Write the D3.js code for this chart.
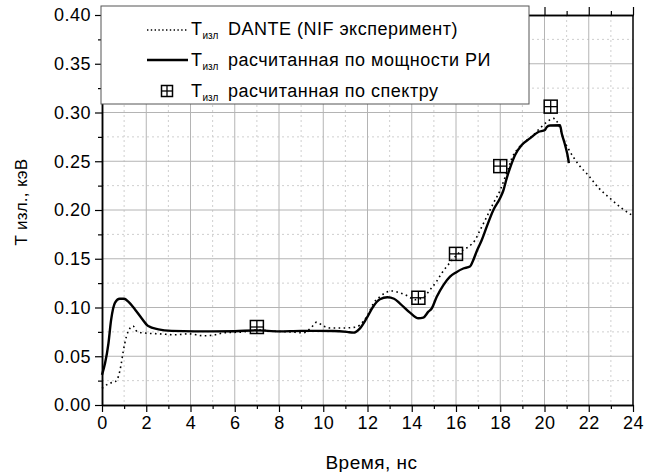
<!DOCTYPE html>
<html>
<head>
<meta charset="utf-8">
<script src="https://cdn.jsdelivr.net/npm/d3@7"></script>
<style>
body { margin: 0; background: #fff; }
svg { font-family: Arial, 'Liberation Sans', sans-serif; }
.grid-major { stroke: #b4b4b4; stroke-width: 1; }
.grid-minor { stroke: #cfcfcf; stroke-width: 1; stroke-dasharray: 2,3; }
</style>
</head>
<body>
<svg id="chart" width="653" height="472"></svg>
<script>
// время, нс / T изл, кэВ
var danteData = [
    [0, 0.017], [0.3, 0.022], [0.6, 0.024], [0.75, 0.030], [0.86, 0.041], [0.96, 0.055],
    [1.1, 0.070], [1.27, 0.079], [1.4, 0.081], [1.6, 0.075], [2.1, 0.0735], [2.6, 0.073],
    [3.3, 0.072], [3.9, 0.073], [4.6, 0.071], [5.0, 0.0715], [5.5, 0.074], [6.4, 0.075],
    [7.0, 0.077], [7.9, 0.0755], [8.5, 0.075], [9.1, 0.074], [9.48, 0.080], [9.7, 0.085],
    [10.0, 0.081], [10.3, 0.079], [10.9, 0.079], [11.5, 0.080], [11.8, 0.0855], [12.05, 0.094],
    [12.26, 0.104], [12.56, 0.111], [12.8, 0.115], [13.1, 0.117], [13.47, 0.115], [13.8, 0.112],
    [14.15, 0.108], [14.5, 0.110], [14.82, 0.118], [15.13, 0.127], [15.35, 0.135], [15.58, 0.142],
    [15.88, 0.150], [16.18, 0.157], [16.48, 0.161], [16.71, 0.165], [16.86, 0.169], [17.08, 0.179],
    [17.39, 0.193], [17.69, 0.207], [18.0, 0.2205], [18.2, 0.2325], [18.37, 0.243], [18.52, 0.253],
    [18.75, 0.2615], [19.12, 0.270], [19.5, 0.277], [19.8, 0.284], [20.1, 0.290], [20.4, 0.294],
    [20.65, 0.287], [20.85, 0.2735], [21.15, 0.260], [21.53, 0.247], [22.0, 0.235], [22.43, 0.223],
    [22.96, 0.212], [23.5, 0.2017], [24, 0.194]
]
var powerData = [
    [0, 0.031], [0.14, 0.043], [0.29, 0.063], [0.41, 0.087], [0.59, 0.105], [0.8, 0.109],
    [1.0, 0.109], [1.19, 0.106], [1.49, 0.098], [1.79, 0.089], [2.09, 0.081], [2.55, 0.0776],
    [3.15, 0.076], [4.2, 0.0755], [5.0, 0.0755], [6.0, 0.0757], [7.0, 0.0765], [8.0, 0.0755],
    [9.0, 0.076], [10.46, 0.0759], [11.07, 0.075], [11.36, 0.0742], [11.66, 0.0786], [11.96, 0.089],
    [12.26, 0.101], [12.56, 0.1084], [12.9, 0.1105], [13.2, 0.109], [13.47, 0.104], [13.92, 0.0947],
    [14.3, 0.0889], [14.52, 0.0896], [14.75, 0.0957], [14.9, 0.099], [15.13, 0.111], [15.43, 0.123],
    [15.73, 0.1316], [16.0, 0.136], [16.33, 0.140], [16.63, 0.142], [16.75, 0.147], [16.96, 0.159],
    [17.16, 0.169], [17.39, 0.183], [17.69, 0.200], [17.99, 0.212], [18.14, 0.22], [18.29, 0.2325],
    [18.44, 0.243], [18.67, 0.2564], [18.97, 0.2667], [19.34, 0.2735], [19.72, 0.280], [20.02, 0.282],
    [20.1, 0.285], [20.25, 0.2866], [20.7, 0.287], [20.78, 0.2785], [20.93, 0.2667], [21.08, 0.2513],
    [21.1, 0.248]
]
var spectrumData = [[7.0, 0.080], [14.3, 0.110], [16.0, 0.155], [18.0, 0.245], [20.28, 0.306]]

var xTicks = d3.range(0, 25, 2)
var xMinor = d3.range(1, 24, 2)
var yTicks = d3.range(0, 0.401, 0.05)
var yMinor = d3.range(0.025, 0.4, 0.05)

var legendItems = [
    { kind: 'dante', text: ' DANTE (NIF эксперимент)' },
    { kind: 'power', text: ' расчитанная по мощности РИ' },
    { kind: 'spectrum', text: ' расчитанная по спектру' }
]

var svg = d3.select('#chart')
var mLeft = 102, mRight = 633, mTop = 15, mBottom = 405

var x = d3.scaleLinear().domain([0, 24]).range([mLeft, mRight])
var y = d3.scaleLinear().domain([0, 0.4]).range([mBottom, mTop])

// grid
svg.selectAll('line.vminor').data(xMinor).enter().append('line')
    .attr('class', 'grid-minor')
    .attr('x1', function(d) { return x(d); }).attr('x2', function(d) { return x(d); })
    .attr('y1', mTop).attr('y2', mBottom)
svg.selectAll('line.hminor').data(yMinor).enter().append('line')
    .attr('class', 'grid-minor')
    .attr('x1', mLeft).attr('x2', mRight)
    .attr('y1', function(d) { return y(d); }).attr('y2', function(d) { return y(d); })
svg.selectAll('line.vmajor').data(xTicks.slice(1, -1)).enter().append('line')
    .attr('class', 'grid-major')
    .attr('x1', function(d) { return x(d); }).attr('x2', function(d) { return x(d); })
    .attr('y1', mTop).attr('y2', mBottom)
svg.selectAll('line.hmajor').data(yTicks.slice(1, -1)).enter().append('line')
    .attr('class', 'grid-major')
    .attr('x1', mLeft).attr('x2', mRight)
    .attr('y1', function(d) { return y(d); }).attr('y2', function(d) { return y(d); })

// axes
var fmt = d3.format('.2f')
function styleAxis(g) {
    g.selectAll('.domain').attr('stroke', '#000').attr('stroke-width', 1.5)
    g.selectAll('.tick line').attr('stroke', '#000').attr('stroke-width', 1.2)
    g.selectAll('.tick text').attr('font-size', 18).attr('letter-spacing', 0.5)
        .attr('font-family', 'Arial, Liberation Sans, sans-serif').attr('fill', '#000')
}
var gx = svg.append('g').attr('transform', 'translate(0,' + mBottom + ')')
    .call(d3.axisBottom(x).tickValues(xTicks).tickSize(7).tickSizeOuter(0).tickPadding(4))
styleAxis(gx)
var gxm = svg.append('g').attr('transform', 'translate(0,' + mBottom + ')')
    .call(d3.axisBottom(x).tickValues(xMinor).tickSize(4).tickSizeOuter(0).tickFormat(''))
styleAxis(gxm)
var gy = svg.append('g').attr('transform', 'translate(' + mLeft + ',0)')
    .call(d3.axisLeft(y).tickValues(yTicks).tickFormat(fmt).tickSize(7).tickSizeOuter(0).tickPadding(4))
styleAxis(gy)
var gym = svg.append('g').attr('transform', 'translate(' + mLeft + ',0)')
    .call(d3.axisLeft(y).tickValues(yMinor).tickSize(4).tickSizeOuter(0).tickFormat(''))
styleAxis(gym)
var gt = svg.append('g').attr('transform', 'translate(0,' + mTop + ')')
    .call(d3.axisTop(x).tickValues(xTicks).tickSize(8).tickSizeOuter(0).tickFormat(''))
styleAxis(gt)
var gtm = svg.append('g').attr('transform', 'translate(0,' + mTop + ')')
    .call(d3.axisTop(x).tickValues(xMinor).tickSize(4).tickSizeOuter(0).tickFormat(''))
styleAxis(gtm)
svg.append('line').attr('x1', mRight).attr('x2', mRight).attr('y1', mTop).attr('y2', mBottom)
    .attr('stroke', '#000').attr('stroke-width', 1.5)

// axis titles
svg.append('text').attr('x', (mLeft + mRight) / 2 + 4).attr('y', 469)
    .attr('text-anchor', 'middle').attr('font-size', 19).attr('letter-spacing', 0.5).text('Время, нс')
svg.append('text').attr('transform', 'translate(27,202) rotate(-90)')
    .attr('text-anchor', 'middle').attr('font-size', 17).attr('letter-spacing', 0.3).text('T изл., кэВ')

// curves
var line = d3.line().x(function(d) { return x(d[0]); }).y(function(d) { return y(d[1]); })
    .curve(d3.curveMonotoneX)
svg.append('path').datum(danteData).attr('d', line)
    .attr('fill', 'none').attr('stroke', '#000').attr('stroke-width', 1.6)
    .attr('stroke-dasharray', '1.6,3.4')
svg.append('path').datum(powerData).attr('d', line)
    .attr('fill', 'none').attr('stroke', '#000').attr('stroke-width', 2.4)

function marker(g, cx, cy, s) {
    g.append('rect').attr('x', cx - s / 2).attr('y', cy - s / 2).attr('width', s).attr('height', s)
        .attr('fill', 'none').attr('stroke', '#000').attr('stroke-width', 1.5)
    g.append('line').attr('x1', cx).attr('x2', cx).attr('y1', cy - s / 2).attr('y2', cy + s / 2)
        .attr('stroke', '#000').attr('stroke-width', 1.3)
    g.append('line').attr('x1', cx - s / 2).attr('x2', cx + s / 2).attr('y1', cy).attr('y2', cy)
        .attr('stroke', '#000').attr('stroke-width', 1.3)
}
var gm = svg.append('g')
spectrumData.forEach(function(d) { marker(gm, x(d[0]), y(d[1]), 13) })

// legend
var lg = svg.append('g')
lg.append('rect').attr('x', 101).attr('y', 6).attr('width', 428).attr('height', 98)
    .attr('fill', '#fff').attr('stroke', '#555').attr('stroke-width', 1)
var rows = lg.selectAll('g.row').data(legendItems).enter().append('g')
    .attr('transform', function(d, i) { return 'translate(0,' + (35 + i * 31) + ')'; })
rows.each(function(d) {
    var g = d3.select(this)
    if (d.kind === 'dante') {
        g.append('line').attr('x1', 147).attr('x2', 188).attr('y1', -5).attr('y2', -5)
            .attr('stroke', '#000').attr('stroke-width', 1.4).attr('stroke-dasharray', '1.4,2.4')
    } else if (d.kind === 'power') {
        g.append('line').attr('x1', 147).attr('x2', 188).attr('y1', -6).attr('y2', -6)
            .attr('stroke', '#000').attr('stroke-width', 2.4)
    } else {
        marker(g, 167, -6, 11)
    }
    var t = g.append('text').attr('x', 191).attr('y', 0).attr('font-size', 18).attr('letter-spacing', 0.5)
    t.append('tspan').text('T')
    t.append('tspan').attr('font-size', 10).attr('letter-spacing', 0).attr('dy', 4).text('изл')
    t.append('tspan').attr('dy', -4).attr('dx', 4).text(d.text)
})
</script>
</body>
</html>
